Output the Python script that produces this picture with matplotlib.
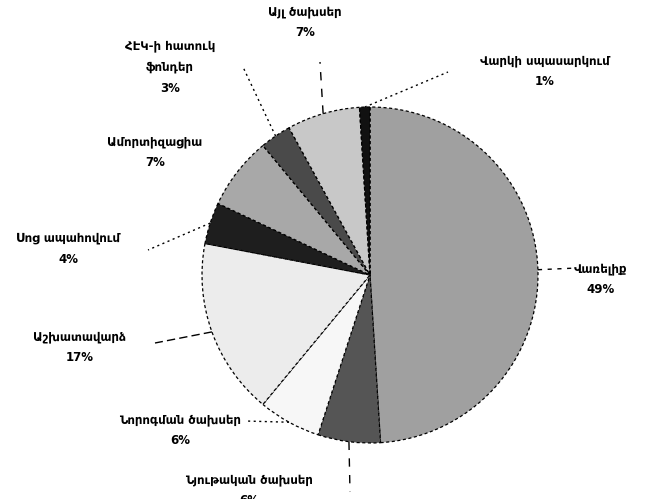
import numpy as np
import matplotlib
matplotlib.use("Agg")
import matplotlib.pyplot as plt

plt.rcParams['font.family'] = ['DejaVu Sans']

categories = ["Վառելիք", "Նյութական ծախսեր", "Նորոգման ծախսեր", "Աշխատավարձ",
              "Սոց ապահովում", "Ամորտիզացիա", "ՀԷԿ-ի հատուկ\nֆոնդեր",
              "Այլ ծախսեր", "Վարկի սպասարկում"]
values = [49, 6, 6, 17, 4, 7, 3, 7, 1]
pct_labels = ["49%", "6%", "6%", "17%", "4%", "7%", "3%", "7%", "1%"]
colors = ["#a0a0a0", "#555555", "#f7f7f7", "#ececec", "#1e1e1e",
          "#a8a8a8", "#4a4a4a", "#c8c8c8", "#111111"]

W, H = 667, 499
fig = plt.figure(figsize=(W / 100, H / 100), dpi=100)
ax = fig.add_axes([0, 0, 1, 1])

def py(y):
    return H - y

cx, cy, R = 370, 275, 168
ax.pie(values, colors=colors, startangle=90, counterclock=False,
       center=(cx, py(cy)), radius=R,
       wedgeprops=dict(edgecolor='black', linewidth=0.9, linestyle=(0, (2.5, 2))))
ax.set_xlim(0, W)
ax.set_ylim(0, H)
ax.set_aspect('equal')
ax.axis('off')

# label layout (pixel positions: text center, leader end)
label_pos = [(601, 279), (249, 490), (180, 430), (80, 347), (68, 249),
             (155, 152), (170, 67), (305, 22), (545, 71)]
line_end = [(577, 268), (350, 492), (245, 421), (155, 343), (148, 250),
            (0, 0), (243, 67), (320, 62), (448, 72)]
styles = [(0, (3, 4)), (0, (6, 6)), (0, (1.5, 2.5)), (0, (6, 3)), (0, (1.5, 2.5)),
          None, (0, (1.5, 2.5)), (0, (6, 6)), (0, (1.5, 2.5))]

total = sum(values)
cum = np.cumsum([0] + values[:-1])
for i, (cat, pct) in enumerate(zip(categories, pct_labels)):
    mid = (cum[i] + values[i] / 2) / total * 360
    ang = np.deg2rad(90 - mid)
    ex, ey = cx + R * np.cos(ang), cy - R * np.sin(ang)
    tx, ty = label_pos[i]
    ax.text(tx, py(ty), cat + "\n" + pct, ha='center', va='center',
            fontsize=8.5, fontweight='bold', linespacing=1.8)
    if styles[i] is not None:
        lx, ly = line_end[i]
        ax.plot([ex, lx], [py(ey), py(ly)], color='black', linewidth=1.0,
                linestyle=styles[i])

fig.savefig("out.png", dpi=100)
